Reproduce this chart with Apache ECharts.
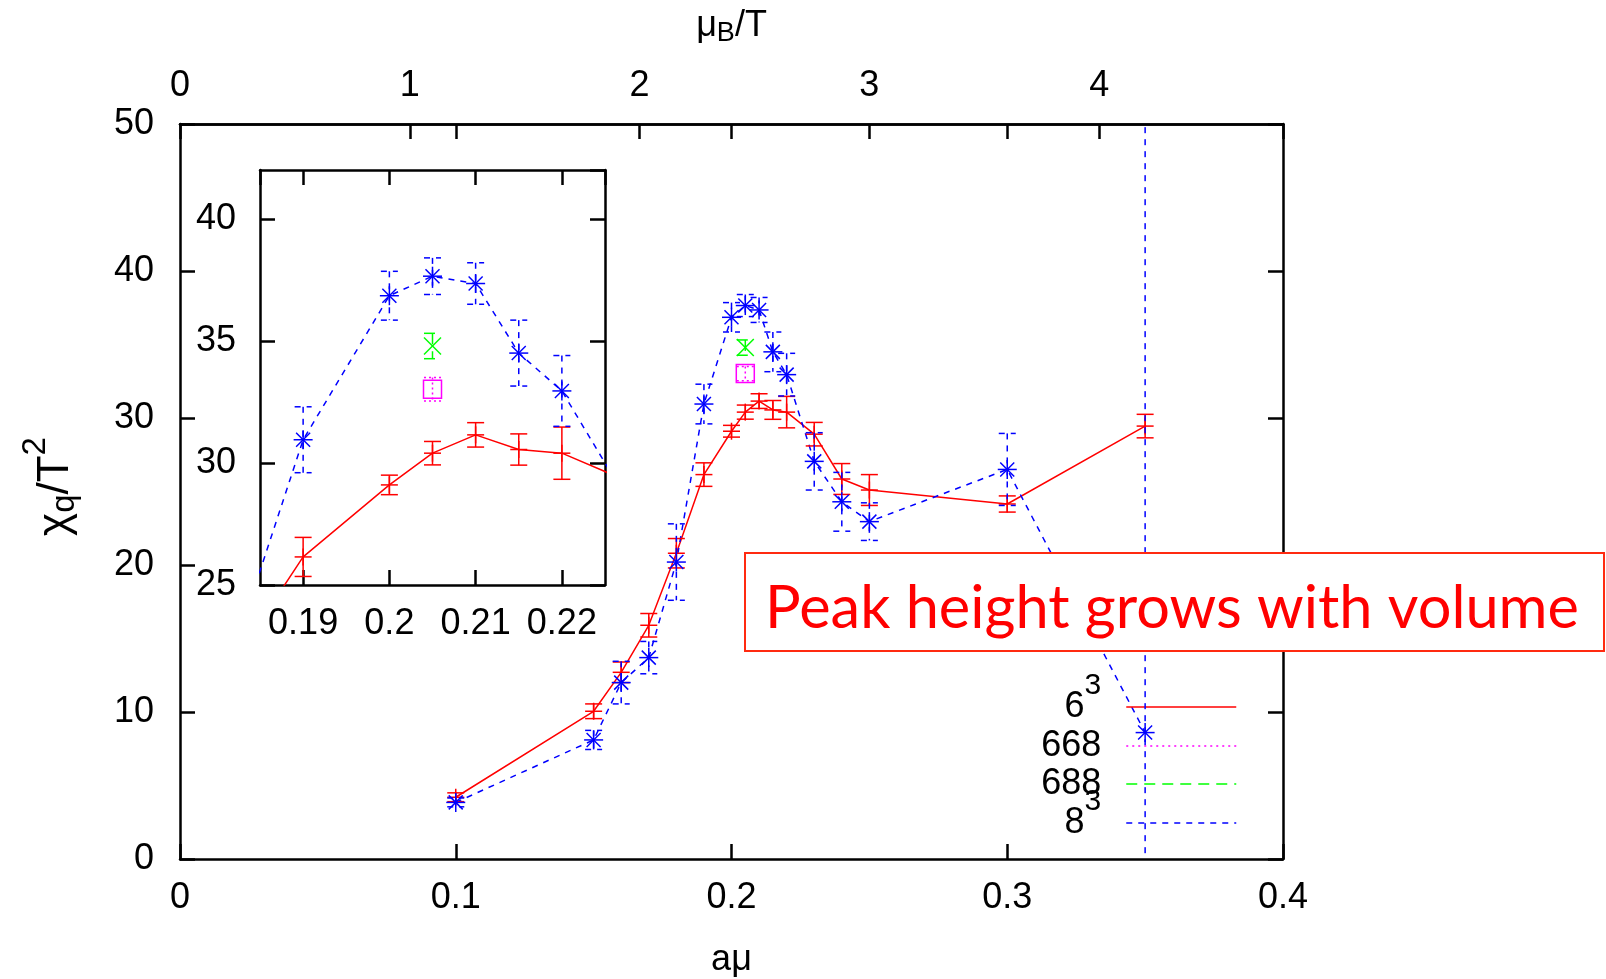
<!DOCTYPE html>
<html>
<head>
<meta charset="utf-8">
<script src="https://cdn.jsdelivr.net/npm/echarts@6/dist/echarts.min.js"></script>
<style>
  html, body { margin: 0; padding: 0; background: #fff; }
  #main { width: 1606px; height: 979px; }
</style>
</head>
<body>
<div id="main"></div>
<script>
// data: a*mu, chi_q/T^2 and error for each lattice size
var amu  = [0.1, 0.15, 0.16, 0.17, 0.18, 0.19, 0.2, 0.205, 0.21, 0.215, 0.22, 0.23, 0.24, 0.25, 0.3, 0.35];
var chi6 = [4.2, 10.05, 12.7, 15.9, 20.8, 26.15, 29.1, 30.4, 31.15, 30.55, 30.4, 28.9, 25.85, 25.1, 24.15, 29.45];
var err6 = [0.3, 0.5, 0.7, 0.8, 1.0, 0.8, 0.4, 0.48, 0.5, 0.64, 1.07, 0.8, 1.05, 1.05, 0.55, 0.8];
var chi8 = [3.85, 8.1, 12.0, 13.7, 20.2, 30.95, 36.85, 37.65, 37.35, 34.5, 32.95, 27.05, 24.3, 22.95, 26.5, 8.6];
var err8 = [0.3, 0.65, 1.45, 1.1, 2.6, 1.35, 1.0, 0.75, 0.85, 1.35, 1.45, 1.95, 2.0, 1.28, 2.45, 42];
var amu668 = [0.205];
var chi668 = [33.02];
var err668 = [0.48];
var amu688 = [0.205];
var chi688 = [34.79];
var err688 = [0.52];

var seriesNames = ['6³', '668', '688', '8³'];
var aRange = [0, 0.4];       // bottom axis a*mu
var muRange = [0, 4.8];      // top axis mu_B/T = 12 a*mu
var chiRange = [0, 50];
var insetX = [0.185, 0.225];
var insetY = [25, 42];

var FONT = "'Liberation Sans', Arial, sans-serif";
var RED = '#ff0000', BLUE = '#0000ff', GREEN = '#00ff00', MAG = '#ff00ff';

var chart = echarts.init(document.getElementById('main'), null, { renderer: 'canvas' });

function pairs(xs, ys) { return xs.map(function (x, i) { return [x, ys[i]]; }); }
function triples(xs, ys, es) { return xs.map(function (x, i) { return [x, ys[i], es[i]]; }); }

var frameLine = { show: true, onZero: false, lineStyle: { color: '#000', width: 2.5 } };
var inTick = { show: true, inside: true, length: 15, lineStyle: { color: '#000', width: 2.5 } };
var lab = { fontFamily: FONT, fontSize: 36, color: '#000' };
var richTop = {
  b: { fontFamily: FONT, fontSize: 36, color: '#000', lineHeight: 56, verticalAlign: 'middle' },
  sub: { fontFamily: FONT, fontSize: 27, color: '#000', height: 40, verticalAlign: 'bottom' }
};
var richLeft = {
  b: { fontFamily: FONT, fontSize: 44, color: '#000', lineHeight: 64, verticalAlign: 'middle' },
  sub: { fontFamily: FONT, fontSize: 33, color: '#000', height: 46, verticalAlign: 'bottom' },
  sup: { fontFamily: FONT, fontSize: 33, color: '#000', height: 24, verticalAlign: 'top' }
};

// error bar + point symbol drawn through the axes
function errorBars(color, dash, marker) {
  return function (params, api) {
    var x = api.value(0), y = api.value(1), e = api.value(2);
    var p = api.coord([x, y]);
    var hi = api.coord([x, y + e])[1];
    var lo = api.coord([x, y - e])[1];
    var w = 8.5;
    var bar = { stroke: color, lineWidth: 1.5, lineDash: dash };
    var mk = { stroke: color, lineWidth: 1.5, fill: 'none' };
    var kids = [
      { type: 'line', shape: { x1: p[0], y1: hi, x2: p[0], y2: lo }, style: bar },
      { type: 'line', shape: { x1: p[0] - w, y1: hi, x2: p[0] + w, y2: hi }, style: bar },
      { type: 'line', shape: { x1: p[0] - w, y1: lo, x2: p[0] + w, y2: lo }, style: bar }
    ];
    if (marker === 'plus' || marker === 'star') {
      var s = marker === 'star' ? 9.5 : w;
      kids.push({ type: 'line', shape: { x1: p[0] - s, y1: p[1], x2: p[0] + s, y2: p[1] }, style: mk });
      kids.push({ type: 'line', shape: { x1: p[0], y1: p[1] - s, x2: p[0], y2: p[1] + s }, style: mk });
    }
    if (marker === 'cross' || marker === 'star') {
      var d = marker === 'star' ? 7 : 8.5;
      kids.push({ type: 'line', shape: { x1: p[0] - d, y1: p[1] - d, x2: p[0] + d, y2: p[1] + d }, style: mk });
      kids.push({ type: 'line', shape: { x1: p[0] - d, y1: p[1] + d, x2: p[0] + d, y2: p[1] - d }, style: mk });
    }
    if (marker === 'square') {
      kids.push({ type: 'rect', shape: { x: p[0] - 9, y: p[1] - 9, width: 18, height: 18 }, style: mk });
    }
    return { type: 'group', children: kids };
  };
}

function lineSeries(name, data, color, dash, xi, yi) {
  return {
    name: name, type: 'line', xAxisIndex: xi, yAxisIndex: yi, data: data,
    symbol: 'none', silent: true, clip: true,
    lineStyle: { color: color, width: 1.5, type: dash },
    itemStyle: { color: color }
  };
}
function barSeries(data, color, dash, marker, xi, yi) {
  return {
    type: 'custom', xAxisIndex: xi, yAxisIndex: yi, data: data, clip: true, silent: true,
    renderItem: errorBars(color, dash, marker), z: 4
  };
}

function legendFmt(n) {
  return n.indexOf('³') >= 0 ? '{b|' + n.replace('³', '') + '}{sup2|3}' : '{b|' + n + '}';
}
var legendCentres = [707, 746, 784, 823];
var legendDash = ['solid', [2, 4], [11, 7], [6, 6]];
var LEG_H = 70;
var legends = seriesNames.map(function (n, i) {
  // names with a superscript come out with a taller text box, pull them back up
  var shift = n.indexOf('³') >= 0 ? 8 : 0;
  return {
    data: [n], right: 369, top: legendCentres[i] - 28 - shift, orient: 'vertical', align: 'right',
    itemWidth: 110, itemHeight: LEG_H, padding: 0, selectedMode: false,
    itemStyle: { opacity: 0 },
    lineStyle: { width: 1.5, type: legendDash[i] },
    formatter: legendFmt,
    textStyle: {
      fontFamily: FONT, fontSize: 36, color: '#000', padding: [0, 20, 0, 0],
      rich: {
        b: { fontFamily: FONT, fontSize: 36, color: '#000', lineHeight: 56, verticalAlign: 'middle' },
        sup2: { fontFamily: FONT, fontSize: 30, color: '#000', height: 14, verticalAlign: 'top' }
      }
    }
  };
});

var main6 = pairs(amu, chi6), main8 = pairs(amu, chi8);
var p668 = pairs(amu668, chi668), p688 = pairs(amu688, chi688);

var option = {
  animation: false,
  backgroundColor: '#fff',
  textStyle: { fontFamily: FONT },
  grid: [
    { left: 180, top: 124, width: 1103, height: 735, outerBoundsMode: 'none', containLabel: false },
    { left: 260, top: 170, width: 345, height: 415, outerBoundsMode: 'none', containLabel: false }
  ],
  xAxis: [
    { type: 'value', gridIndex: 0, position: 'bottom', min: aRange[0], max: aRange[1], interval: 0.1,
      axisLine: frameLine, axisTick: inTick, splitLine: { show: false },
      axisLabel: Object.assign({ margin: 21 }, lab),
      name: 'aμ', nameLocation: 'middle', nameGap: 83, nameTextStyle: lab },
    { type: 'value', gridIndex: 0, position: 'top', min: aRange[0], max: aRange[1], interval: 0.1,
      axisLine: frameLine, axisTick: inTick, splitLine: { show: false }, axisLabel: { show: false } },
    { type: 'value', gridIndex: 0, position: 'top', min: muRange[0], max: muRange[1], interval: 1,
      axisLine: frameLine, axisTick: inTick, splitLine: { show: false },
      axisLabel: Object.assign({ margin: 20, showMaxLabel: false }, lab),
      name: '{b|μ}{sub|B}{b|/T}', nameLocation: 'middle', nameGap: 70,
      nameTextStyle: { rich: richTop } },
    { type: 'value', gridIndex: 1, position: 'bottom', min: insetX[0], max: insetX[1], splitNumber: 4,
      axisLine: frameLine, axisTick: inTick, splitLine: { show: false },
      axisLabel: Object.assign({ margin: 21, showMinLabel: false, showMaxLabel: false }, lab) },
    { type: 'value', gridIndex: 1, position: 'top', min: insetX[0], max: insetX[1], splitNumber: 4,
      axisLine: frameLine, axisTick: inTick, splitLine: { show: false }, axisLabel: { show: false } }
  ],
  yAxis: [
    { type: 'value', gridIndex: 0, position: 'left', min: chiRange[0], max: chiRange[1], interval: 10,
      axisLine: frameLine, axisTick: inTick, splitLine: { show: false },
      axisLabel: Object.assign({ margin: 26 }, lab),
      name: '{b|χ}{sub|q}{b|/T}{sup|2}', nameLocation: 'middle', nameRotate: 90, nameGap: 92,
      nameTextStyle: { padding: [0, 0, 0, 10], rich: richLeft } },
    { type: 'value', gridIndex: 0, position: 'right', min: chiRange[0], max: chiRange[1], interval: 10,
      axisLine: frameLine, axisTick: inTick, splitLine: { show: false }, axisLabel: { show: false } },
    { type: 'value', gridIndex: 1, position: 'left', min: insetY[0], max: insetY[1], interval: 5,
      axisLine: frameLine, axisTick: inTick, splitLine: { show: false },
      axisLabel: Object.assign({ margin: 24, showMaxLabel: false }, lab) },
    { type: 'value', gridIndex: 1, position: 'right', min: insetY[0], max: insetY[1], interval: 5,
      axisLine: frameLine, axisTick: inTick, splitLine: { show: false }, axisLabel: { show: false } }
  ],
  legend: legends,
  series: [
    lineSeries(seriesNames[0], main6, RED, 'solid', 0, 0),
    lineSeries(seriesNames[1], p668, MAG, [2, 4], 0, 0),
    lineSeries(seriesNames[2], p688, GREEN, [11, 7], 0, 0),
    lineSeries(seriesNames[3], main8, BLUE, [6, 6], 0, 0),
    barSeries(triples(amu, chi6, err6), RED, null, 'plus', 0, 0),
    barSeries(triples(amu668, chi668, err668), MAG, [2, 3], 'square', 0, 0),
    barSeries(triples(amu688, chi688, err688), GREEN, [11, 7], 'cross', 0, 0),
    barSeries(triples(amu, chi8, err8), BLUE, [6, 6], 'star', 0, 0),
    // inset
    lineSeries('6³ inset', main6, RED, 'solid', 3, 2),
    lineSeries('8³ inset', main8, BLUE, [6, 6], 3, 2),
    barSeries(triples(amu, chi6, err6), RED, null, 'plus', 3, 2),
    barSeries(triples(amu668, chi668, err668), MAG, [2, 3], 'square', 3, 2),
    barSeries(triples(amu688, chi688, err688), GREEN, [11, 7], 'cross', 3, 2),
    barSeries(triples(amu, chi8, err8), BLUE, [6, 6], 'star', 3, 2)
  ],
  graphic: [
    { type: 'rect', z: 100, shape: { x: 745, y: 553, width: 859, height: 98 },
      style: { fill: '#fff', stroke: '#ff2a10', lineWidth: 2 } },
    { type: 'text', z: 101, x: 1172, y: 609,
      style: { text: 'Peak height grows with volume', fill: '#ff0000', fontFamily: 'Lato', fontSize: 59.5,
               align: 'center', verticalAlign: 'middle' } }
  ]
};

chart.setOption(option);
</script>
</body>
</html>
